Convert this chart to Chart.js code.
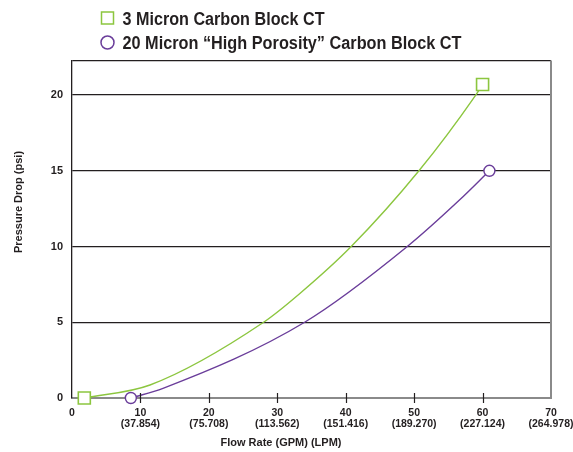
<!DOCTYPE html>
<html>
<head>
<meta charset="utf-8">
<script src="https://cdn.jsdelivr.net/npm/chart.js@4/dist/chart.umd.min.js"></script>
<style>
  html, body { margin: 0; padding: 0; background: #fff; overflow: hidden; }
  #wrap { position: relative; width: 573px; height: 452px; }
</style>
</head>
<body>
<div id="wrap"><canvas id="c"></canvas></div>
<script>
// ---- data ----
const seriesNames = ['3 Micron Carbon Block CT', '20 Micron \u201CHigh Porosity\u201D Carbon Block CT'];
const greenFlow = [1.8, 11.4, 28.0, 33.3, 40.8, 50.7, 59.0, 60.0];
const greenPsi  = [0,   0.86, 5.0,  6.9,  10.0, 15.0, 20.0, 20.7];
const purpleFlow = [8.6, 13.3, 34.0, 49.0, 56.7, 61.0];
const purplePsi  = [0,   0.64, 5.0,  10.0, 13.1, 15.0];
const gpmTicks = [0, 10, 20, 30, 40, 50, 60, 70];
const lpmLabels = ['', '(37.854)', '(75.708)', '(113.562)', '(151.416)', '(189.270)', '(227.124)', '(264.978)'];
const psiTicks = [0, 5, 10, 15, 20];
const xTitle = 'Flow Rate (GPM) (LPM)';
const yTitle = 'Pressure Drop (psi)';

const GREEN = '#8cc63f';
const PURPLE = '#6a3d9a';
const INK = '#231f20';
const FONT = '"Liberation Sans", Arial, Helvetica, sans-serif';

function pts(xs, ys) { return xs.map((x, i) => ({ x: x, y: ys[i] })); }
function endRadius(n, r) { return Array.from({ length: n }, (_, i) => (i === 0 || i === n - 1) ? r : 0); }

const framePlugin = {
  id: 'frame',
  afterDraw(chart) {
    const ctx = chart.ctx;
    const a = chart.chartArea;
    const xs = chart.scales.x;
    ctx.save();
    // right border
    ctx.strokeStyle = '#8a8a8a';
    ctx.lineWidth = 2;
    ctx.beginPath(); ctx.moveTo(a.right, a.top - 0.5); ctx.lineTo(a.right, a.bottom + 1); ctx.stroke();
    // x tick marks crossing the axis
    ctx.strokeStyle = INK;
    ctx.lineWidth = 1.2;
    gpmTicks.forEach(v => {
      if (v === 0) return;
      const px = Math.round(xs.getPixelForValue(v)) + 0.5;
      if (px >= a.right - 1) return;
      ctx.beginPath(); ctx.moveTo(px, a.bottom - 5); ctx.lineTo(px, a.bottom + 5); ctx.stroke();
    });
    // axis titles
    ctx.fillStyle = INK;
    ctx.font = 'bold 11px ' + FONT;
    ctx.textAlign = 'center';
    ctx.textBaseline = 'middle';
    ctx.fillText(xTitle, 281, 443);
    ctx.save();
    ctx.translate(19, 202);
    ctx.rotate(-Math.PI / 2);
    ctx.fillText(yTitle, 0, 0);
    ctx.restore();
    // legend
    const items = [
      { text: seriesNames[0], color: GREEN, style: 'rect', cy: 18, baseline: 24.5, width: 202 },
      { text: seriesNames[1], color: PURPLE, style: 'circle', cy: 42.5, baseline: 48.5, width: 339 }
    ];
    items.forEach(it => {
      ctx.strokeStyle = it.color;
      ctx.lineWidth = 1.5;
      ctx.fillStyle = '#fff';
      ctx.beginPath();
      if (it.style === 'rect') ctx.rect(101.5, it.cy - 6, 12, 12);
      else ctx.arc(107.5, it.cy, 6.5, 0, Math.PI * 2);
      ctx.fill(); ctx.stroke();
      ctx.fillStyle = INK;
      ctx.font = 'bold 17.5px ' + FONT;
      ctx.textAlign = 'left';
      ctx.textBaseline = 'alphabetic';
      const w = ctx.measureText(it.text).width;
      const sx = it.width / w;
      ctx.save();
      ctx.translate(122.5, it.baseline);
      ctx.scale(sx, 1);
      ctx.fillText(it.text, 0, 0);
      ctx.restore();
    });
    ctx.restore();
  }
};

new Chart(document.getElementById('c'), {
  type: 'line',
  data: {
    datasets: [
      {
        label: seriesNames[0],
        data: pts(greenFlow, greenPsi),
        borderColor: GREEN,
        borderWidth: 1.4,
        backgroundColor: '#ffffff',
        pointStyle: 'rect',
        pointRadius: endRadius(greenFlow.length, 8.5),
        pointBorderWidth: 1.6,
        pointBorderColor: GREEN,
        pointBackgroundColor: '#ffffff',
        cubicInterpolationMode: 'monotone',
        fill: false,
        clip: false
      },
      {
        label: seriesNames[1],
        data: pts(purpleFlow, purplePsi),
        borderColor: PURPLE,
        borderWidth: 1.4,
        backgroundColor: '#ffffff',
        pointStyle: 'circle',
        pointRadius: endRadius(purpleFlow.length, 5.5),
        pointBorderWidth: 1.4,
        pointBorderColor: PURPLE,
        pointBackgroundColor: '#ffffff',
        cubicInterpolationMode: 'monotone',
        fill: false,
        clip: false
      }
    ]
  },
  options: {
    responsive: true,
    maintainAspectRatio: false,
    animation: false,
    devicePixelRatio: 1,
    layout: { padding: { top: 61, left: 0, right: 22, bottom: 0 } },
    plugins: { legend: { display: false }, tooltip: { enabled: false } },
    scales: {
      x: {
        type: 'linear',
        min: 0, max: 70,
        afterBuildTicks(s) { s.ticks = gpmTicks.map(v => ({ value: v })); },
        afterFit(s) { s.height = 54; s.paddingLeft = 0; s.paddingRight = 0; },
        grid: { display: false, drawOnChartArea: false, drawTicks: false },
        border: { display: true, color: '#8a8a8a', width: 2 },
        ticks: {
          padding: 9,
          color: INK,
          maxRotation: 0,
          autoSkip: false,
          font: { family: FONT, size: 10.5, weight: 'bold', lineHeight: 1.08 },
          callback(v) {
            const i = gpmTicks.indexOf(v);
            return lpmLabels[i] ? [String(v), lpmLabels[i]] : String(v);
          }
        }
      },
      y: {
        type: 'linear',
        min: 0, max: 22.25,
        afterBuildTicks(s) { s.ticks = psiTicks.concat([22.25]).map(v => ({ value: v })); },
        afterFit(s) { s.width = 72; s.paddingTop = 0; s.paddingBottom = 0; },
        grid: {
          drawTicks: false,
          lineWidth: 1.3,
          color(c) { return c.tick && c.tick.value === 0 ? 'rgba(0,0,0,0)' : INK; }
        },
        border: { display: true, color: INK, width: 1.3 },
        ticks: {
          padding: 9,
          color: INK,
          font: { family: FONT, size: 11, weight: 'bold' },
          callback(v) { return psiTicks.indexOf(v) >= 0 ? String(v) : ''; }
        }
      }
    }
  },
  plugins: [framePlugin]
});
</script>
</body>
</html>
